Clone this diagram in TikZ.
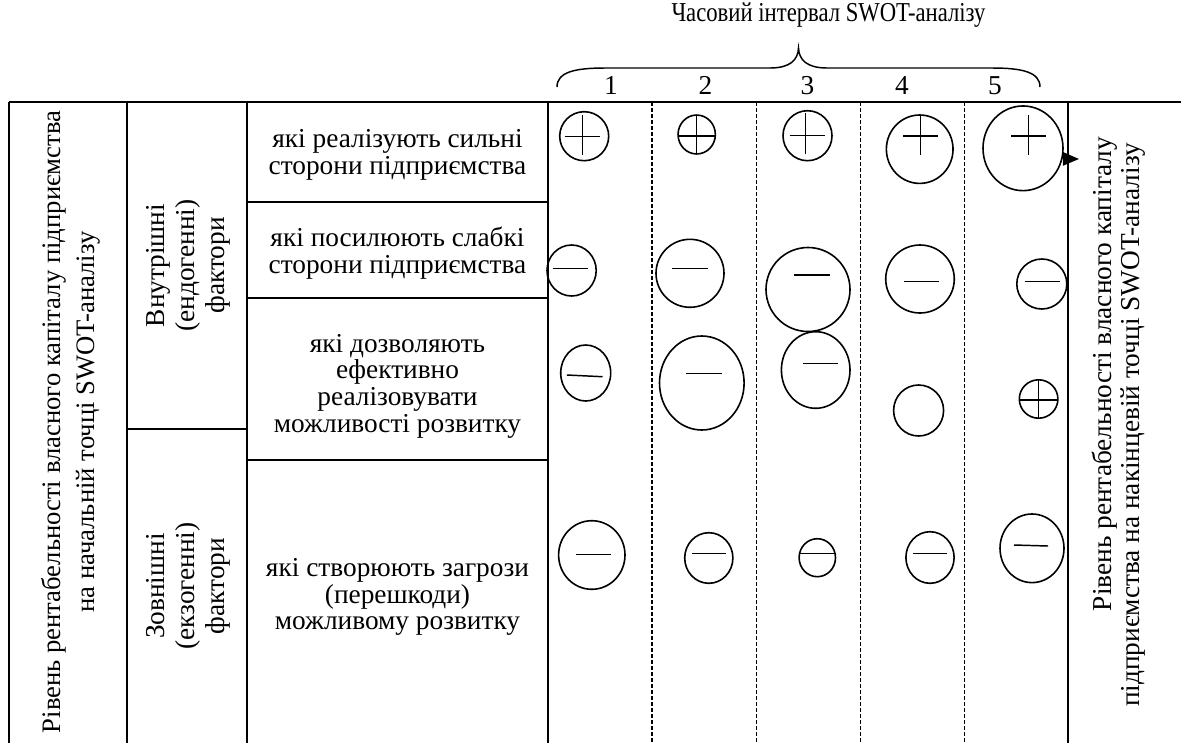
\documentclass[tikz,border=0pt]{standalone}
\usepackage{fontspec}
\setmainfont{Liberation Serif}
\usepackage{graphicx}
\usetikzlibrary{shapes.geometric,arrows.meta}
\begin{document}
\begin{tikzpicture}[x=0.75pt,y=-0.75pt,
  tline/.style={line width=1.6pt},
  dline/.style={line width=1.1pt, dash pattern=on 3pt off 1.5pt},
  bubble/.style={ellipse, draw, line width=1.2pt, inner sep=0pt},
  sign/.style={line width=1.1pt},
  body/.style={font=\fontsize{20.5}{20}\selectfont, align=center, inner sep=0pt},
  body2/.style={body, rotate=90, font=\fontsize{20.5}{22.5}\selectfont},
  body3/.style={body, rotate=90, font=\fontsize{20}{25.5}\selectfont},
  brace/.style={line width=1.1pt}]
\useasboundingbox (0,0) rectangle (1181,743);
% table frame
\draw[tline] (9,102) -- (1181,102);
\draw[tline] (9,102) -- (9,743);
\draw[tline] (127,102) -- (127,743);
\draw[tline] (247,102) -- (247,743);
\draw[tline] (548,102) -- (548,743);
\draw[tline] (1068,102) -- (1068,743);
\foreach \xx in {652,756.5,860.5,964.5} \draw[dline] (\xx,102) -- (\xx,743);
\draw[tline] (247,202) -- (548,202);
\draw[tline] (247,298) -- (548,298);
\draw[tline] (247,460) -- (548,460);
\draw[tline] (127,429) -- (247,429);
% header
\node[body] (hdr) at (828.5,15) {\scalebox{0.83}[1]{Часовий інтервал SWOT-аналізу}};
\draw[brace] (557,87) .. controls (557,72) and (575,68) .. (605,68) -- (770,68)
  .. controls (790,68) and (798,60) .. (798.5,48)
  .. controls (799,60) and (807,68) .. (827,68) -- (992,68)
  .. controls (1022,68) and (1040,72) .. (1040,87);
\node[body] (n1) at (611,85.5) {1};
\node[body] (n2) at (705.5,85.5) {2};
\node[body] (n3) at (807.5,85.5) {3};
\node[body] (n4) at (902,85.5) {4};
\node[body] (n5) at (995,85.5) {5};
% left and right texts
\node[body3] (start) at (70.5,422) {Рівень рентабельності власного капіталу підприємства\\на начальній точці SWOT-аналізу};
\node[body, rotate=90] (endA) at (1105,374) {Рівень рентабельності власного капіталу};
\node[body, rotate=90] (endB) at (1133,425) {підприємства на накінцевій точці SWOT-аналізу};
\node[body2] (intf) at (188,265.5) {Внутрішні\\(ендогенні)\\фактори};
\node[body2] (extf) at (188,586) {Зовнішні\\(екзогенні)\\фактори};
% row texts
\node[body] (sw) at (397.5,155) {які реалізують сильні\\сторони підприємства};
\node[body] (wk) at (397.5,253) {які посилюють слабкі\\сторони підприємства};
\node[body] (op) at (397.5,386) {які дозволяють\\ефективно\\реалізовувати\\можливості розвитку};
\node[body] (th) at (397.5,597) {які створюють загрози\\(перешкоди)\\можливому розвитку};
% row 1
\node[bubble, minimum width=36.75pt, minimum height=36.75pt] (r1c1) at (584.2,136.2) {};
\draw[sign] (564.7,136.7) -- (599.7,136.7) (582.7,115) -- (582.7,155);
\node[bubble, minimum width=28pt, minimum height=29.2pt] (r1c2) at (696.7,134.5) {};
\draw[sign] (678,136) -- (715.3,136) (696.3,115) -- (696.3,154);
\node[bubble, minimum width=36.75pt, minimum height=37.5pt] (r1c3) at (807.5,135.7) {};
\draw[sign] (789.7,135.7) -- (824.7,135.7) (805.7,113.3) -- (805.7,154);
\node[bubble, minimum width=50pt, minimum height=51.3pt] (r1c4) at (919.7,149.2) {};
\draw[sign] (903,136) -- (938,136) (920.7,115) -- (920.7,155);
\node[bubble, minimum width=60pt, minimum height=63.5pt] (r1c5) at (1023,148.3) {};
\draw[sign] (1011.3,136) -- (1046.3,136) (1028.7,115) -- (1028.7,155);
\coordinate (tip) at (1079,159);
\draw[line width=1.1pt, -{Triangle[length=12pt,width=10pt]}] (r1c5.-15) -- (tip);
% row 2
\node[bubble, minimum width=36.9pt, minimum height=38.25pt] (r2c1) at (571.6,270.5) {};
\draw[sign] (552.5,268.7) -- (588,268.7);
\node[bubble, minimum width=51pt, minimum height=51pt] (r2c2) at (690,273.3) {};
\draw[sign] (672,268.7) -- (708,268.7);
\node[bubble, minimum width=63pt, minimum height=63pt] (r2c3) at (808,289.5) {};
\draw[sign] (793.6,275) -- (830,275);
\node[bubble, minimum width=51.45pt, minimum height=51pt] (r2c4) at (920,279) {};
\draw[sign] (903.6,281.7) -- (939,281.7);
\node[bubble, minimum width=37.5pt, minimum height=37.5pt] (r2c5) at (1041.8,284) {};
\draw[sign] (1024.6,281.7) -- (1060,281.7);
% row 3
\node[bubble, minimum width=37.5pt, minimum height=42pt] (r3c1) at (585.7,373) {};
\draw[sign] (566.8,375) -- (602.5,376.7);
\node[bubble, minimum width=63.45pt, minimum height=70.5pt] (r3c2) at (701.8,383) {};
\draw[sign] (686,373.3) -- (722,373.3);
\node[bubble, minimum width=51.45pt, minimum height=57.45pt] (r3c3) at (815.7,370) {};
\draw[sign] (802.5,363.3) -- (838,363.3);
\node[bubble, minimum width=37.5pt, minimum height=38.25pt] (r3c4) at (918.6,410.5) {};
\node[bubble, minimum width=28.95pt, minimum height=28.8pt] (r3c5) at (1038.6,399) {};
\draw[sign] (1019.3,400) -- (1057.9,400) (1038.6,379.8) -- (1038.6,418.2);
% row 4
\node[bubble, minimum width=49.8pt, minimum height=51.45pt] (r4c1) at (591.8,555) {};
\draw[sign] (576.4,554.3) -- (610.7,554.3);
\node[bubble, minimum width=36.15pt, minimum height=37.95pt] (r4c2) at (708.8,558) {};
\draw[sign] (691.8,553.3) -- (725.7,553.3);
\node[bubble, minimum width=27.3pt, minimum height=28.5pt] (r4c3) at (817.3,557.7) {};
\draw[sign] (799.1,553.3) -- (835.5,553.3);
\node[bubble, minimum width=36.15pt, minimum height=38.7pt] (r4c4) at (930,557.5) {};
\draw[sign] (913,553.3) -- (947,553.3);
\node[bubble, minimum width=48pt, minimum height=51.45pt] (r4c5) at (1032,548.3) {};
\draw[sign] (1014,545) -- (1048,546);
\end{tikzpicture}
\end{document}
